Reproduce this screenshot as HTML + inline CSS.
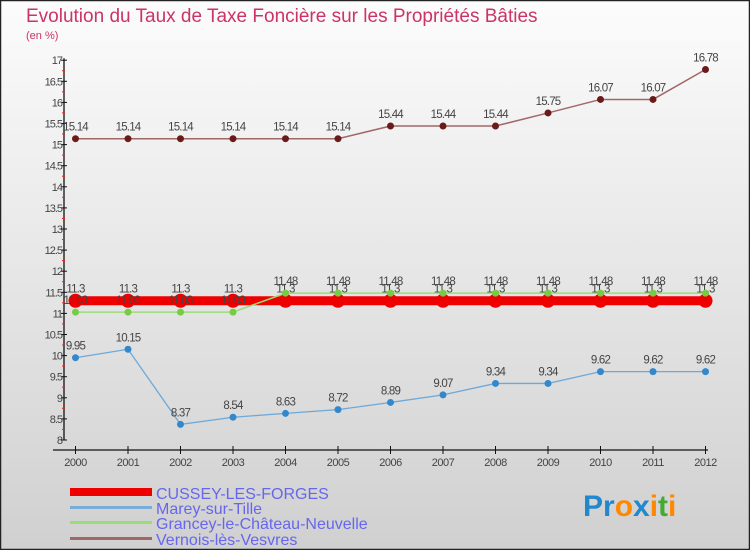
<!DOCTYPE html>
<html><head><meta charset="utf-8"><style>
body{margin:0;width:750px;height:550px;overflow:hidden;font-family:"Liberation Sans",sans-serif}
svg{display:block}
</style></head><body>
<svg id="chart" width="750" height="550" viewBox="0 0 750 550">
<defs><linearGradient id="bg" x1="0" y1="0" x2="0" y2="1"><stop offset="0" stop-color="#fcfcfc"/><stop offset="1" stop-color="#d0d0d0"/></linearGradient></defs>
<rect x="0.5" y="0.5" width="749" height="549" fill="url(#bg)" stroke="#222" stroke-width="1.5"/>
<text x="26" y="22" font-size="19" fill="#cc3366">Evolution du Taux de Taxe Foncière sur les Propriétés Bâties</text>
<text x="26" y="39" font-size="11" fill="#cc3366">(en %)</text>
<g id="axes"></g>
<g id="series"></g>
<g id="legend" font-size="16" fill="#6666ee">
<rect x="70" y="488" width="82" height="8" fill="#ee0000"/>
<text x="156" y="499">CUSSEY-LES-FORGES</text>
<rect x="70" y="506" width="82" height="3" fill="#7aaed8"/>
<text x="156" y="514">Marey-sur-Tille</text>
<rect x="70" y="521" width="82" height="3" fill="#99dd77"/>
<text x="156" y="529">Grancey-le-Château-Neuvelle</text>
<rect x="70" y="537" width="82" height="3" fill="#a06868"/>
<text x="156" y="545">Vernois-lès-Vesvres</text>
</g>
<g font-size="30" font-weight="bold">
<text x="583" y="516"><tspan fill="#2288cc">Pr</tspan><tspan fill="#ff8800">o</tspan><tspan fill="#2288cc">x</tspan><tspan fill="#ff8800">i</tspan><tspan fill="#44aa33">t</tspan><tspan fill="#ff8800">i</tspan></text>
</g>
</svg>
<script>
const years=[2000,2001,2002,2003,2004,2005,2006,2007,2008,2009,2010,2011,2012];
const cussey=[11.3,11.3,11.3,11.3,11.3,11.3,11.3,11.3,11.3,11.3,11.3,11.3,11.3];
const marey=[9.95,10.15,8.37,8.54,8.63,8.72,8.89,9.07,9.34,9.34,9.62,9.62,9.62];
const grancey=[11.03,11.03,11.03,11.03,11.48,11.48,11.48,11.48,11.48,11.48,11.48,11.48,11.48];
const vernois=[15.14,15.14,15.14,15.14,15.14,15.14,15.44,15.44,15.44,15.75,16.07,16.07,16.78];
const yTicks=[8,8.5,9,9.5,10,10.5,11,11.5,12,12.5,13,13.5,14,14.5,15,15.5,16,16.5,17];
const NS='http://www.w3.org/2000/svg';
const X=i=>75.5+i*52.5;
const Y=v=>440-(v-8)*42.2;
function mk(tag,attrs,parent){const e=document.createElementNS(NS,tag);for(const k in attrs)e.setAttribute(k,attrs[k]);parent.appendChild(e);return e;}
const ax=document.getElementById('axes');
let l=mk('line',{x1:64,y1:Y(17)-2,x2:64,y2:Y(8),stroke:'#111','stroke-width':1.3},ax);


yTicks.forEach((v,k)=>{
 const y=Y(v);
 const t=mk('line',{x1:61,y1:y,x2:67,y2:y,stroke:'#111'},ax);
 
 
 if(k>0){
  const r=mk('line',{x1:62,y1:y+10.5,x2:65,y2:y+10.5,stroke:'#ee2222'},ax);
  
  
 }
 const tx=mk('text',{x:62,y:y+4,'text-anchor':'end','font-size':11,fill:'#444','letter-spacing':'-1'},ax);
 tx.textContent=String(v);
 
 
});
l=mk('line',{x1:53,y1:450,x2:708,y2:450,stroke:'#111','stroke-width':1.3},ax);


years.forEach((yr,i)=>{
 const t=mk('line',{x1:X(i),y1:446,x2:X(i),y2:454,stroke:'#111'},ax);
 
 
 const tx=mk('text',{x:X(i),y:466,'text-anchor':'middle','font-size':11,fill:'#444','letter-spacing':'-0.5'},ax);
 tx.textContent=String(yr);
 
 
});
const sg=document.getElementById('series');
function series(vals,name,lineColor,width,ptColor,r){
 const g=mk('g',{},sg);
 
 
 const p=mk('polyline',{points:vals.map((v,i)=>X(i)+','+Y(v)).join(' '),fill:'none',stroke:lineColor,'stroke-width':width},g);
 
 
 vals.forEach((v,i)=>{
  const c=mk('circle',{cx:X(i),cy:Y(v),r:r,fill:ptColor},g);
  
  
  const t=mk('text',{x:X(i),y:Y(v)-8,'text-anchor':'middle','font-size':11.5,fill:'#444','letter-spacing':'-0.8'},g);
  t.textContent=String(v);
  
  
 });
}
series(vernois,'vernois','#a06868',1.5,'#6b1a1a',3.5);
series(marey,'marey','#6ea8d8',1.3,'#3388cc',3.5);
series(cussey,'cussey','#ee0000',9,'#ee0000',7);
series(grancey,'grancey','#99dd77',1.5,'#77cc44',3.5);
</script>
</body></html>
